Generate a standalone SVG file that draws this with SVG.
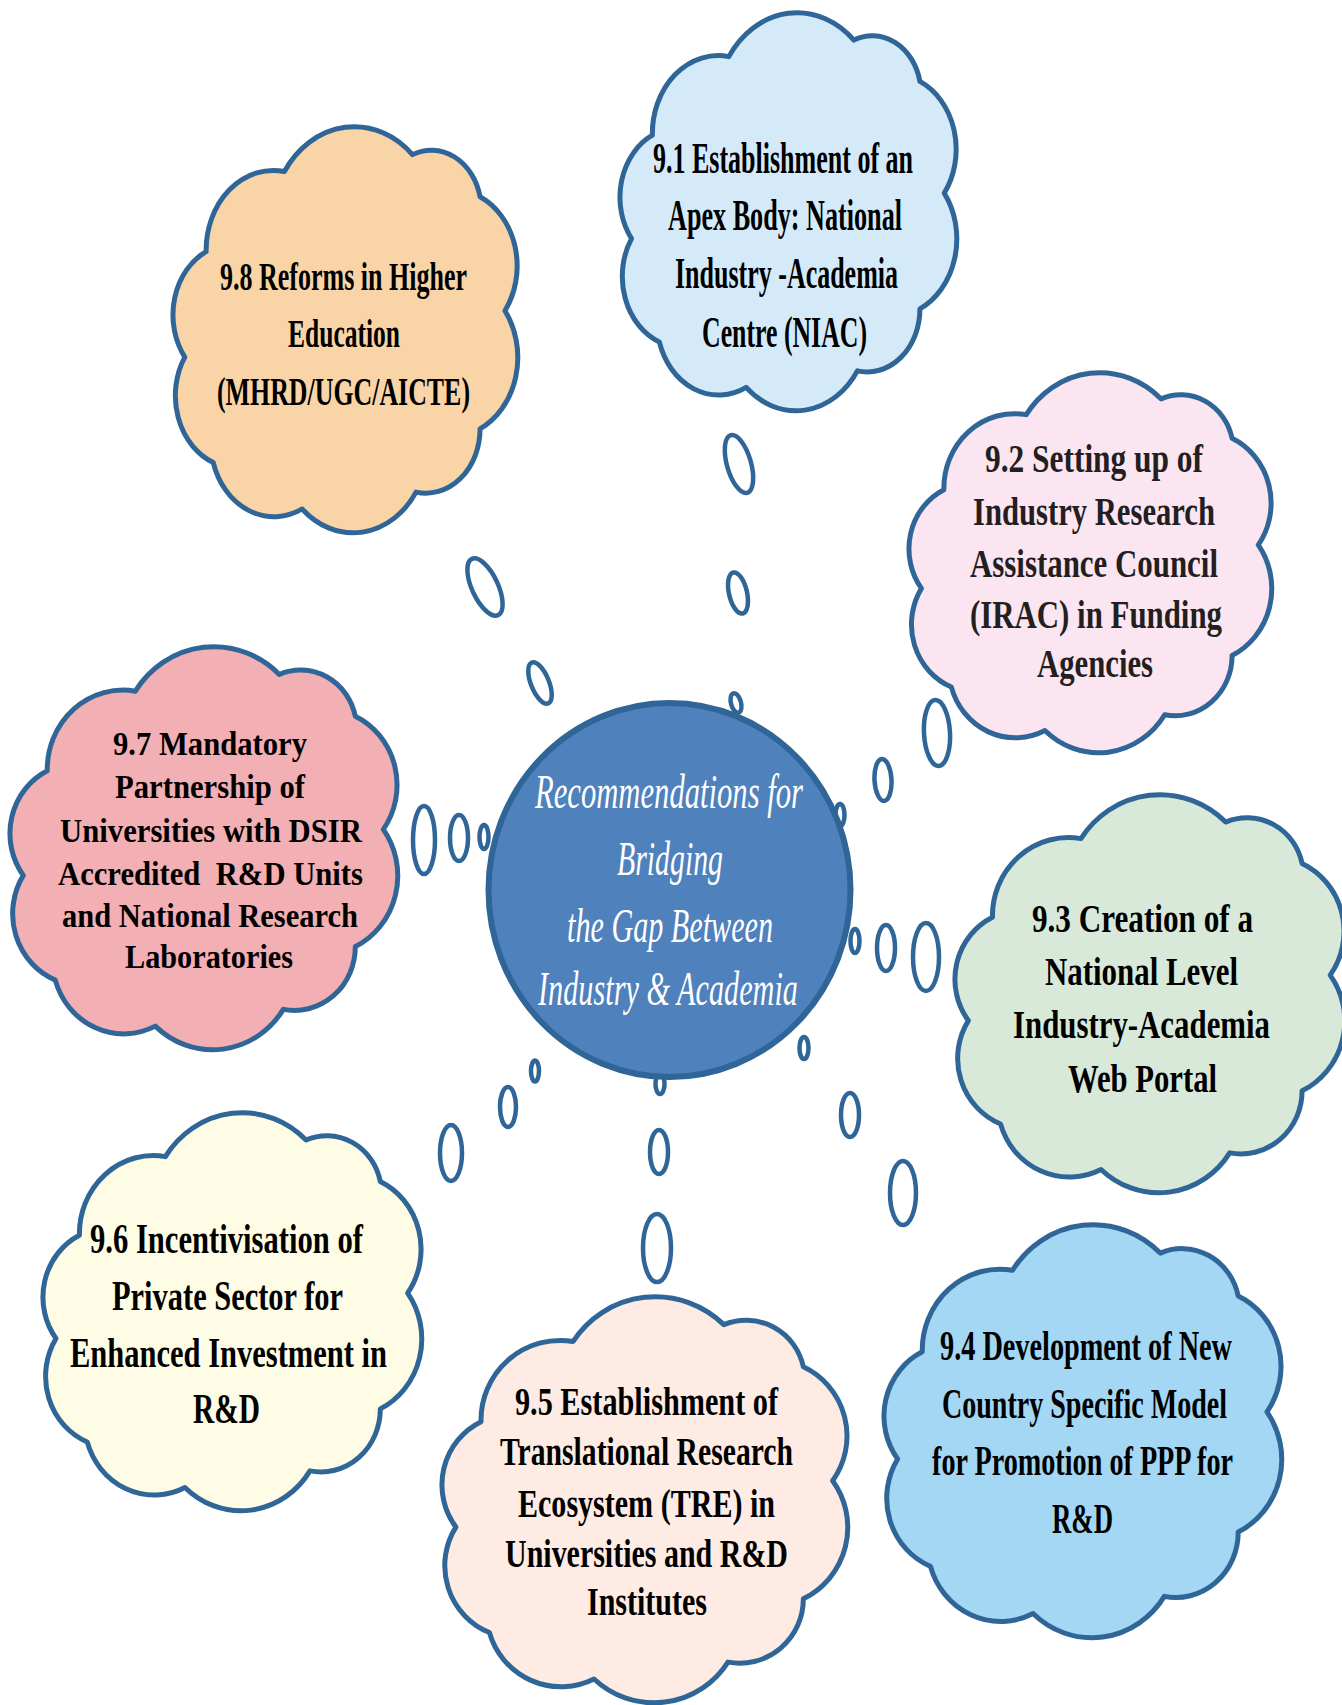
<svg xmlns="http://www.w3.org/2000/svg" xmlns:xlink="http://www.w3.org/1999/xlink" width="1342" height="1705" viewBox="0 0 1342 1705">
  <defs>
    <style>
      .cloud{stroke:#2F6597;stroke-width:5;stroke-linejoin:round}
      .bub{fill:#fff;stroke:#2F6597;stroke-width:4.5}
      .lbl{font-family:"Liberation Serif","Times New Roman",serif;font-weight:bold;fill:#000;text-anchor:middle}
      .hub-txt{font-family:"Liberation Serif","Times New Roman",serif;font-style:italic;fill:#fff;font-size:49px;text-anchor:middle}
    </style>
    <!-- thought-cloud outline in a 100x100 unit box; stroke stays constant when scaled -->
    <path id="cloud-shape" class="cloud" vector-effect="non-scaling-stroke"
      d="M5,56 A16.7,16.7 0 0 1 11,31 A18.9,18.9 0 0 1 33,12 A23.5,23.5 0 0 1 69,8 A14,14 0 0 1 88,18 A18.1,18.1 0 0 1 95,45 A18.8,18.8 0 0 1 88,73 A15.2,15.2 0 0 1 70,88 A21,21 0 0 1 38,92 A17.8,17.8 0 0 1 13,81 A17.1,17.1 0 0 1 5,56 Z"/>
  </defs>

  <rect width="1342" height="1705" fill="#fff"/>

  <!-- 9.1 -->
  <g id="node-9-1">
    <use xlink:href="#cloud-shape" fill="#D5EAF8" transform="translate(614.16 7) scale(3.4746 4.1351)"/>
    <g class="lbl" font-size="44">
      <text x="783" y="173" textLength="260" lengthAdjust="spacingAndGlyphs">9.1 Establishment of an</text>
      <text x="785" y="230" textLength="234" lengthAdjust="spacingAndGlyphs">Apex Body: National</text>
      <text x="786.5" y="288" textLength="223" lengthAdjust="spacingAndGlyphs">Industry -Academia</text>
      <text x="784.5" y="347" textLength="165" lengthAdjust="spacingAndGlyphs">Centre (NIAC)</text>
    </g>
  </g>

  <!-- 9.8 -->
  <g id="node-9-8">
    <use xlink:href="#cloud-shape" fill="#F9D4A6" transform="translate(167.02 120.88) scale(3.5571 4.2182)"/>
    <g class="lbl" font-size="41">
      <text x="343.5" y="290" textLength="247" lengthAdjust="spacingAndGlyphs">9.8 Reforms in Higher</text>
      <text x="344" y="347" textLength="112" lengthAdjust="spacingAndGlyphs">Education</text>
      <text x="343.5" y="405" textLength="253" lengthAdjust="spacingAndGlyphs">(MHRD/UGC/AICTE)</text>
    </g>
  </g>

  <!-- 9.2 -->
  <g id="node-9-2">
    <use xlink:href="#cloud-shape" fill="#FBE5F0" transform="translate(902.71 367.28) scale(3.7426 3.9481)"/>
    <g class="lbl" font-size="40" style="fill:#231F20">
      <text x="1094" y="472" textLength="218" lengthAdjust="spacingAndGlyphs">9.2 Setting up of</text>
      <text x="1094" y="525" textLength="242" lengthAdjust="spacingAndGlyphs">Industry Research</text>
      <text x="1094" y="577" textLength="248" lengthAdjust="spacingAndGlyphs">Assistance Council</text>
      <text x="1096" y="628" textLength="252" lengthAdjust="spacingAndGlyphs">(IRAC) in Funding</text>
      <text x="1095" y="677" textLength="116" lengthAdjust="spacingAndGlyphs">Agencies</text>
    </g>
  </g>

  <!-- 9.7 -->
  <g id="node-9-7">
    <use xlink:href="#cloud-shape" fill="#F2AFB4" transform="translate(3.28 640.93) scale(4.0004 4.187)"/>
    <g class="lbl" font-size="34">
      <text x="210" y="755" textLength="194" lengthAdjust="spacingAndGlyphs">9.7 Mandatory</text>
      <text x="210" y="798" textLength="190" lengthAdjust="spacingAndGlyphs">Partnership of</text>
      <text x="211" y="842" textLength="302" lengthAdjust="spacingAndGlyphs">Universities with DSIR</text>
      <text x="210.5" y="885" textLength="305" lengthAdjust="spacingAndGlyphs" style="white-space:pre">Accredited  R&amp;D Units</text>
      <text x="210" y="927" textLength="296" lengthAdjust="spacingAndGlyphs">and National Research</text>
      <text x="209" y="968" textLength="168" lengthAdjust="spacingAndGlyphs">Laboratories</text>
    </g>
  </g>

  <!-- 9.3 -->
  <g id="node-9-3">
    <use xlink:href="#cloud-shape" fill="#D8E9DA" transform="translate(948.24 789) scale(4.021 4.1351)"/>
    <g class="lbl" font-size="40">
      <text x="1142.5" y="932" textLength="221" lengthAdjust="spacingAndGlyphs">9.3 Creation of a</text>
      <text x="1141.5" y="985" textLength="193" lengthAdjust="spacingAndGlyphs">National Level</text>
      <text x="1141.5" y="1038" textLength="257" lengthAdjust="spacingAndGlyphs">Industry-Academia</text>
      <text x="1142.5" y="1092" textLength="149" lengthAdjust="spacingAndGlyphs">Web Portal</text>
    </g>
  </g>

  <!-- 9.4 -->
  <g id="node-9-4">
    <use xlink:href="#cloud-shape" fill="#A3D7F4" transform="translate(877.11 1218.78) scale(4.1035 4.2909)"/>
    <g class="lbl" font-size="42">
      <text x="1086" y="1360" textLength="292" lengthAdjust="spacingAndGlyphs">9.4 Development of New</text>
      <text x="1084.5" y="1418" textLength="285" lengthAdjust="spacingAndGlyphs">Country Specific Model</text>
      <text x="1082.5" y="1475" textLength="301" lengthAdjust="spacingAndGlyphs">for Promotion of PPP for</text>
      <text x="1082.5" y="1533" textLength="61" lengthAdjust="spacingAndGlyphs">R&amp;D</text>
    </g>
  </g>

  <!-- 9.5 -->
  <g id="node-9-5">
    <use xlink:href="#cloud-shape" fill="#FDEBE4" transform="translate(434.97 1290.88) scale(4.186 4.2182)"/>
    <g class="lbl" font-size="40">
      <text x="646.5" y="1415" textLength="263" lengthAdjust="spacingAndGlyphs">9.5 Establishment of</text>
      <text x="646.5" y="1465" textLength="293" lengthAdjust="spacingAndGlyphs">Translational Research</text>
      <text x="646.5" y="1517" textLength="257" lengthAdjust="spacingAndGlyphs">Ecosystem (TRE) in</text>
      <text x="646.5" y="1567" textLength="283" lengthAdjust="spacingAndGlyphs">Universities and R&amp;D</text>
      <text x="647" y="1615" textLength="120" lengthAdjust="spacingAndGlyphs">Institutes</text>
    </g>
  </g>

  <!-- 9.6 -->
  <g id="node-9-6">
    <use xlink:href="#cloud-shape" fill="#FEFCE5" transform="translate(36.44 1107) scale(3.9076 4.1351)"/>
    <g class="lbl" font-size="42">
      <text x="226.5" y="1253" textLength="273" lengthAdjust="spacingAndGlyphs">9.6 Incentivisation of</text>
      <text x="227.5" y="1310" textLength="231" lengthAdjust="spacingAndGlyphs">Private Sector for</text>
      <text x="228.5" y="1367" textLength="317" lengthAdjust="spacingAndGlyphs">Enhanced Investment in</text>
      <text x="226.5" y="1423" textLength="67" lengthAdjust="spacingAndGlyphs">R&amp;D</text>
    </g>
  </g>

  <!-- bubble trails from the hub out to each cloud -->
  <g id="connectors" class="bub">
    <!-- towards 9.1 -->
    <ellipse cx="739" cy="464" rx="12" ry="30" transform="rotate(-16 739 464)"/>
    <ellipse cx="738" cy="593" rx="9" ry="21" transform="rotate(-13 738 593)"/>
    <ellipse cx="736" cy="703" rx="5" ry="10" transform="rotate(-15 736 703)"/>
    <!-- towards 9.8 -->
    <ellipse cx="485" cy="587" rx="13" ry="31" transform="rotate(-25 485 587)"/>
    <ellipse cx="540" cy="683" rx="9" ry="22" transform="rotate(-22 540 683)"/>
    <!-- towards 9.2 -->
    <ellipse cx="937" cy="733" rx="13" ry="33" transform="rotate(-3 937 733)"/>
    <ellipse cx="883" cy="780" rx="8.5" ry="21" transform="rotate(-3 883 780)"/>
    <ellipse cx="840" cy="815" rx="4.5" ry="11"/>
    <!-- towards 9.7 -->
    <ellipse cx="424" cy="840" rx="11" ry="34"/>
    <ellipse cx="459" cy="838" rx="9" ry="23"/>
    <ellipse cx="484" cy="837" rx="4.5" ry="12"/>
    <!-- towards 9.3 -->
    <ellipse cx="926" cy="957" rx="13" ry="34"/>
    <ellipse cx="886" cy="948" rx="9" ry="23"/>
    <ellipse cx="855" cy="941" rx="4.5" ry="12"/>
    <!-- towards 9.6 -->
    <ellipse cx="451" cy="1153" rx="11" ry="28"/>
    <ellipse cx="508" cy="1107" rx="8" ry="20"/>
    <ellipse cx="535" cy="1071" rx="4" ry="10.5"/>
    <!-- towards 9.5 -->
    <ellipse cx="657" cy="1248" rx="14" ry="34"/>
    <ellipse cx="659" cy="1152" rx="9" ry="22"/>
    <ellipse cx="660" cy="1084" rx="4.5" ry="10"/>
    <!-- towards 9.4 -->
    <ellipse cx="903" cy="1193" rx="13" ry="32"/>
    <ellipse cx="850" cy="1115" rx="9" ry="22"/>
    <ellipse cx="804" cy="1048" rx="4.5" ry="11"/>
  </g>

  <!-- central hub -->
  <g id="hub">
    <ellipse cx="669.5" cy="890" rx="181" ry="187" fill="#4F81BD" stroke="#2F6597" stroke-width="6"/>
    <g class="hub-txt">
      <text x="669" y="808" textLength="268" lengthAdjust="spacingAndGlyphs">Recommendations for</text>
      <text x="670" y="875" textLength="106" lengthAdjust="spacingAndGlyphs">Bridging</text>
      <text x="670" y="942" textLength="206" lengthAdjust="spacingAndGlyphs">the Gap Between</text>
      <text x="668" y="1005" textLength="260" lengthAdjust="spacingAndGlyphs">Industry &amp; Academia</text>
    </g>
  </g>
</svg>
